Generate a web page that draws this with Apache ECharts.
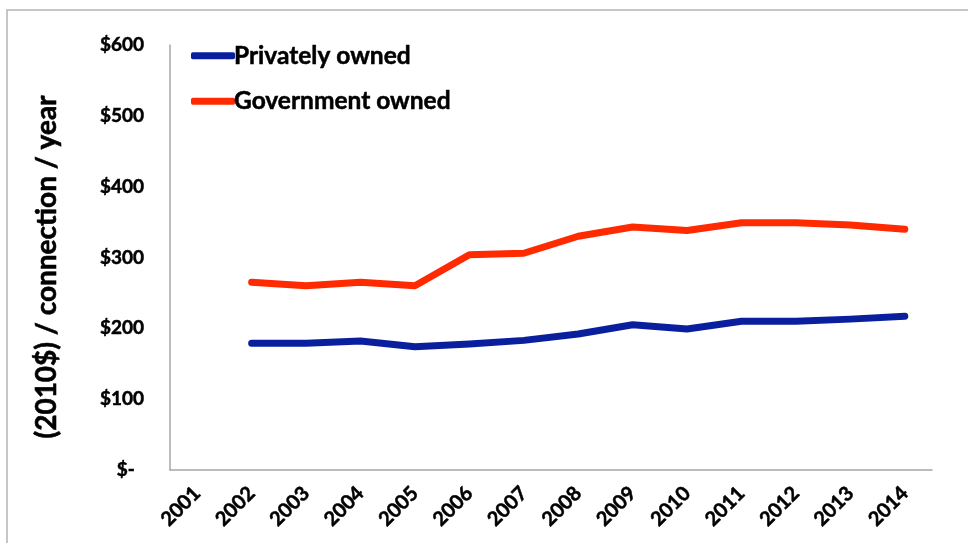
<!DOCTYPE html>
<html>
<head>
<meta charset="utf-8">
<script src="https://cdn.jsdelivr.net/npm/echarts@6/dist/echarts.min.js"></script>
<style>html,body{margin:0;padding:0;background:#fff}#c{width:968px;height:543px}</style>
</head>
<body>
<div id="c"></div>
<script>
var years = ['2001','2002','2003','2004','2005','2006','2007','2008','2009','2010','2011','2012','2013','2014'];
var privatelyOwned = [null,179,179,182,174,178,183,192,205,199,210,210,213,217];
var governmentOwned = [null,265,260,265,260,304,306,330,343,338,349,349,346,340];
var yTicks = [0,100,200,300,400,500,600];
var yTitle = '(2010$) / connection / year';
var FONT = 'Lato, "Open Sans", sans-serif';
var BOLD = {fontFamily: FONT, fontWeight: 'bold', color: '#000', textBorderColor: '#000', textBorderWidth: 0.5};

var chart = echarts.init(document.getElementById('c'));
chart.setOption({
  animation: false,
  backgroundColor: '#fff',
  grid: {left: 170, right: 36, top: 45, bottom: 73},
  legend: {
    left: 186, top: 38, orient: 'vertical', itemGap: 20,
    icon: 'roundRect', itemWidth: 44, itemHeight: 7,
    textStyle: Object.assign({fontSize: 24.5, padding: [0,0,0,-6]}, BOLD),
    data: ['Privately owned', 'Government owned']
  },
  xAxis: {
    type: 'category', data: years, boundaryGap: true,
    axisLine: {lineStyle: {color: '#a6a6a6', width: 1.5}},
    axisTick: {show: false},
    axisLabel: Object.assign({rotate: 45, interval: 0, margin: 20, fontSize: 20}, BOLD)
  },
  yAxis: {
    type: 'value', min: 0, max: 600, interval: 100,
    axisLine: {show: true, lineStyle: {color: '#a6a6a6', width: 1.5}},
    axisTick: {show: false},
    splitLine: {show: false},
    axisLabel: Object.assign({margin: 26, fontSize: 19,
      formatter: function (v) { return v === 0 ? '$-  ' : '$' + v; }}, BOLD)
  },
  graphic: [
    {type: 'rect', shape: {x: 7, y: 10, width: 1000, height: 600}, style: {fill: 'none', stroke: '#b4b4b4', lineWidth: 1.5}, silent: true, z: -1},
    {type: 'text', x: 47, y: 267, rotation: Math.PI / 2,
      style: {text: yTitle, fontFamily: FONT, fontWeight: 'bold', fontSize: 28, fill: '#000', stroke: '#000', lineWidth: 0.6, textAlign: 'center', textVerticalAlign: 'middle'}}
  ],
  series: [
    {name: 'Privately owned', type: 'line', data: privatelyOwned, symbol: 'none',
      color: '#0A1F9E', lineStyle: {width: 7, color: '#0A1F9E', cap: 'round', join: 'round'}},
    {name: 'Government owned', type: 'line', data: governmentOwned, symbol: 'none',
      color: '#FF2A00', lineStyle: {width: 7, color: '#FF2A00', cap: 'round', join: 'round'}}
  ]
});
</script>
</body>
</html>
